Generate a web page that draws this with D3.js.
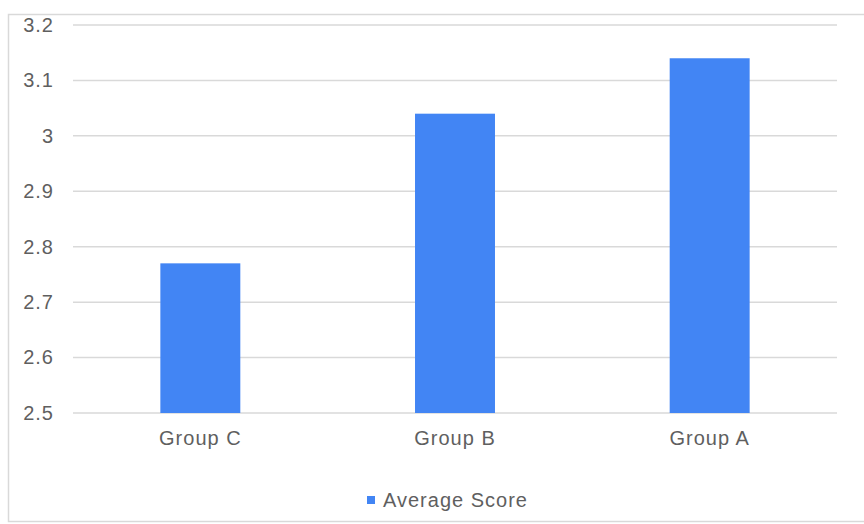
<!DOCTYPE html>
<html>
<head>
<meta charset="utf-8">
<script src="https://cdn.jsdelivr.net/npm/d3@7"></script>
<style>
  body { margin: 0; background: #fff; }
  text { font-family: "Liberation Sans", Arial, sans-serif; fill: #5f5f5f; letter-spacing: 1px; }
</style>
</head>
<body>
<div id="wrapper"></div>
<script>
// data
const groups = ["Group C", "Group B", "Group A"]
const scores = [2.77, 3.04, 3.14]
const yTicks = [2.5, 2.6, 2.7, 2.8, 2.9, 3, 3.1, 3.2]
const seriesName = "Average Score"

const dataset = groups.map((g, i) => ({ group: g, score: scores[i] }))

let dimensions = {
    width: 864,
    height: 524,
    margin: { top: 25, right: 27, bottom: 111, left: 73 },
}
dimensions.boundedWidth = dimensions.width - dimensions.margin.left - dimensions.margin.right
dimensions.boundedHeight = dimensions.height - dimensions.margin.top - dimensions.margin.bottom

const wrapper = d3.select("#wrapper")
    .append("svg")
    .attr("width", dimensions.width)
    .attr("height", dimensions.height)

// outer frame
wrapper.append("rect")
    .attr("x", 8.5)
    .attr("y", 14.5)
    .attr("width", 900)
    .attr("height", 507)
    .attr("fill", "none")
    .attr("stroke", "#d9d9d9")
    .attr("stroke-width", 1.5)

const bounds = wrapper.append("g")
    .attr("transform", `translate(${dimensions.margin.left}, ${dimensions.margin.top})`)

const xScale = d3.scaleBand()
    .domain(groups)
    .range([0, dimensions.boundedWidth])
    .paddingInner(0.686)
    .paddingOuter(0.343)

const yScale = d3.scaleLinear()
    .domain([2.5, 3.2])
    .range([dimensions.boundedHeight, 0])

// gridlines
bounds.append("g")
    .selectAll("line")
    .data(yTicks)
    .join("line")
    .attr("x1", 0)
    .attr("x2", dimensions.boundedWidth)
    .attr("y1", d => yScale(d))
    .attr("y2", d => yScale(d))
    .attr("stroke", "#d9d9d9")
    .attr("stroke-width", 1.5)

// y labels
const yAxis = d3.axisLeft(yScale)
    .tickValues(yTicks)
    .tickFormat(d3.format("~g"))
    .tickSize(0)
    .tickPadding(19)

const yAxisGroup = bounds.append("g").call(yAxis)
yAxisGroup.select(".domain").remove()
yAxisGroup.selectAll("text")
    .style("font-size", "20px")
    .attr("font-family", null)

// bars
bounds.selectAll("rect.bar")
    .data(dataset)
    .join("rect")
    .attr("class", "bar")
    .attr("x", d => xScale(d.group))
    .attr("width", xScale.bandwidth())
    .attr("y", d => yScale(d.score))
    .attr("height", d => yScale(2.5) - yScale(d.score))
    .attr("fill", "#4285f4")

// x labels
const xAxis = d3.axisBottom(xScale).tickSize(0).tickPadding(18)
const xAxisGroup = bounds.append("g")
    .attr("transform", `translate(0, ${dimensions.boundedHeight})`)
    .call(xAxis)
xAxisGroup.select(".domain").remove()
xAxisGroup.selectAll("text")
    .style("font-size", "20px")
    .attr("font-family", null)

// legend
const legend = wrapper.append("g")
    .attr("transform", "translate(367, 496)")
legend.append("rect")
    .attr("width", 8)
    .attr("height", 8)
    .attr("fill", "#4285f4")
legend.append("text")
    .attr("x", 16)
    .attr("y", 11)
    .style("font-size", "20px")
    .text(seriesName)
</script>
</body>
</html>
